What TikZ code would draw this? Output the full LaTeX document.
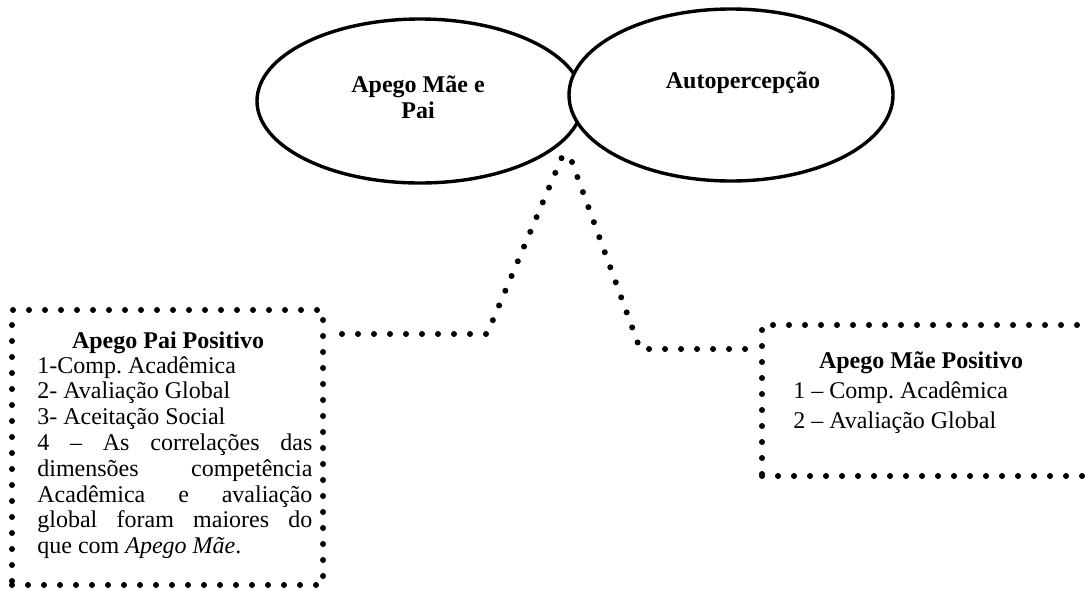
\documentclass[tikz,border=0pt]{standalone}
\usepackage{fontspec}
\setmainfont{Liberation Serif}
\usetikzlibrary{shapes.geometric}
\newcommand{\jline}[1]{\makebox[137.5pt][s]{\spaceskip=0pt\xspaceskip=0pt\relax #1}}
\newcommand{\normsp}{\spaceskip=0pt\xspaceskip=0pt\relax}
\tikzset{
  oval/.style={draw, ellipse, line width=1.7pt, fill=white, inner sep=0pt},
  dotline/.style={line width=3pt, line cap=round, dash pattern=on 0pt off 8pt},
  dotbox/.style={draw, rectangle, line width=3pt, line cap=round, dash pattern=on 0pt off 8pt, inner sep=0pt},
  txt/.style={inner sep=0pt, font=\fontsize{12}{12.9}\selectfont},
  btxt/.style={inner sep=0pt, font=\fontsize{12}{13}\selectfont\bfseries},
}
\begin{document}
\frenchspacing
\begin{tikzpicture}[x=0.5pt,y=-0.5pt]
\useasboundingbox (0,0) rectangle (1085,590);
% ellipses
\node[oval, minimum width=163pt, minimum height=82pt] (e1) at (420,101) {};
\node[oval, minimum width=162pt, minimum height=86pt] (e2) at (731,95) {};
\node[btxt, anchor=base] (t1) at (418,92) {Apego Mãe e};
\node[btxt, anchor=base] (t1b) at (418,118) {Pai};
\node[btxt, anchor=base] (t2) at (743,88) {Autopercepção};
% boxes
\node[dotbox, minimum width=155.5pt, minimum height=137.5pt] (lbox) at (167.5,447.5) {};
\node[dotbox, minimum width=169pt, minimum height=75.5pt] (rbox) at (931,400.5) {};
% left box text
\node[btxt, anchor=base] (lh) at (168,348) {Apego Pai Positivo};
\node[txt, anchor=base west, text width=137.5pt, align=left] (lt) at (37,373) {\normsp\frenchspacing%
1-Comp. Acadêmica\\
2- Avaliação Global\\
3- Aceitação Social\\
\jline{4 – As correlações das}\\
\jline{dimensões competência}\\
\jline{Acadêmica e avaliação}\\
\jline{global foram maiores do}\\
que com \textit{Apego Mãe}.};
% right box text
\node[btxt, anchor=base] (rh) at (921,368) {Apego Mãe Positivo};
\node[txt, anchor=base west, text width=140pt, align=left, font=\fontsize{12}{15}\selectfont] (rt) at (793,398) {\normsp\frenchspacing%
1 – Comp. Acadêmica\\
2 – Avaliação Global};
% connectors
\coordinate (l1) at (342,334);
\coordinate (l2) at (487,334);
\coordinate (l3) at (562,157);
\draw[dotline] (l1) -- (l2) -- (l3);
\coordinate (r1) at (572,162);
\coordinate (r2) at (640,349);
\draw[dotline] (r1) -- (r2) -- (rbox.west |- r2);
\end{tikzpicture}
\end{document}
